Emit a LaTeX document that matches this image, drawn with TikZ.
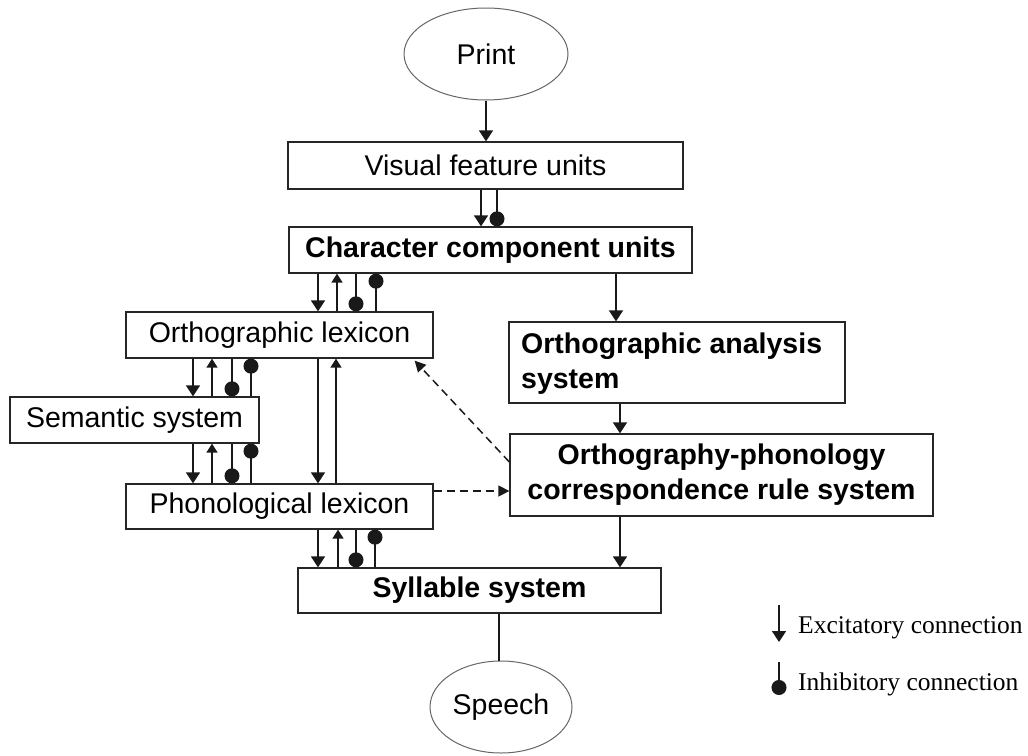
\documentclass[tikz,border=0pt]{standalone}
\usepackage{fontspec}
\setmainfont{Liberation Sans}
\newfontfamily\legfont{Liberation Serif}
\usetikzlibrary{arrows.meta,calc,shapes.geometric}

\tikzset{
  boxtext/.style={font=\fontsize{28.5}{35}\selectfont},
  unit/.style={draw=black!85, line width=1.3pt, inner sep=0pt, boxtext, align=center},
  oval/.style={ellipse, draw=black!60, line width=1pt, inner sep=0pt, boxtext},
  wire/.style={line width=1.6pt, black!90},
  exc/.style={wire, -{Triangle[length=11pt,width=14pt]}},
  excup/.style={wire, -{Triangle[length=9pt,width=11pt]}},
  inh/.style={wire, -{Circle[length=15pt]}},
  dashlink/.style={line width=1.5pt, black!90, dash pattern=on 8pt off 5pt,
    -{Triangle[length=11pt,width=11pt]}},
}

\begin{document}
\begin{tikzpicture}[x=1pt, y=-1pt]
\useasboundingbox (0,0) rectangle (1028,755);

% ellipses for input and output
\node[oval, minimum width=164pt, minimum height=92pt] (print) at (486,54) {Print};
\node[oval, minimum width=142pt, minimum height=92pt] (speech) at (501,707) {Speech};

% processing units
\node[unit, minimum width=395pt, minimum height=47pt] (vis) at (485.5,165.5) {Visual feature units};
\node[unit, minimum width=403pt, minimum height=46pt] (char) at (490.5,250) {\bfseries Character component units};
\node[unit, minimum width=307pt, minimum height=46pt] (ortho) at (279.5,335) {Orthographic lexicon};
\node[unit, minimum width=249pt, minimum height=46pt] (sem) at (134.5,420) {Semantic system};
\node[unit, minimum width=307pt, minimum height=45pt] (phon) at (279.5,506.5) {Phonological lexicon};
\node[unit, minimum width=363pt, minimum height=45pt] (syl) at (479.5,590.5) {\bfseries Syllable system};
\node[unit, minimum width=336pt, minimum height=81pt] (oas) at (677,362.5) {};
\node[boxtext, anchor=west, align=left, inner sep=0pt] (oastext) at (521,364)
  {\bfseries Orthographic analysis\\\bfseries system};
\node[unit, minimum width=423pt, minimum height=82pt] (opc) at (721.5,475)
  {\bfseries Orthography-phonology\\\bfseries correspondence rule system};

% print to visual features
\draw[exc] (print.south) -- (print.south |- vis.north);

% visual features to character components
\draw[exc] (481,0 |- vis.south) -- (481,0 |- char.north);
\draw[inh] (497,0 |- vis.south) -- (497,0 |- char.north);

% character components <-> orthographic lexicon
\draw[exc]   (318,0 |- char.south) -- (318,0 |- ortho.north);
\draw[excup] (337,0 |- ortho.north) -- (337,0 |- char.south);
\draw[inh]   (356,0 |- char.south) -- (356,0 |- ortho.north);
\draw[inh]   (376,0 |- ortho.north) -- (376,0 |- char.south);

% orthographic lexicon <-> semantic system
\draw[exc]   (193,0 |- ortho.south) -- (193,0 |- sem.north);
\draw[excup] (212,0 |- sem.north) -- (212,0 |- ortho.south);
\draw[inh]   (232,0 |- ortho.south) -- (232,0 |- sem.north);
\draw[inh]   (251,0 |- sem.north) -- (251,0 |- ortho.south);

% semantic system <-> phonological lexicon
\draw[exc]   (193,0 |- sem.south) -- (193,0 |- phon.north);
\draw[excup] (212,0 |- phon.north) -- (212,0 |- sem.south);
\draw[inh]   (232,0 |- sem.south) -- (232,0 |- phon.north);
\draw[inh]   (251,0 |- phon.north) -- (251,0 |- sem.south);

% orthographic lexicon <-> phonological lexicon
\draw[exc]   (318,0 |- ortho.south) -- (318,0 |- phon.north);
\draw[excup] (336,0 |- phon.north) -- (336,0 |- ortho.south);

% phonological lexicon <-> syllable system
\draw[exc]   (318,0 |- phon.south) -- (318,0 |- syl.north);
\draw[excup] (338,0 |- syl.north) -- (338,0 |- phon.south);
\draw[inh]   (356,0 |- phon.south) -- (356,0 |- syl.north);
\draw[inh]   (375,0 |- syl.north) -- (375,0 |- phon.south);

% sublexical route
\draw[exc] (616,0 |- char.south) -- (616,0 |- oas.north);
\draw[exc] (620,0 |- oas.south) -- (620,0 |- opc.north);
\draw[exc] (620,0 |- opc.south) -- (620,0 |- syl.north);

% dashed links
\draw[dashlink] (phon.east |- 0,491) -- (opc.west |- 0,491);
\draw[dashlink] (opc.west |- 0,462) -- ($(ortho.south east)+(-19,2)$);

% output
\draw[wire] (499,0 |- syl.south) -- (499,0 |- speech.north);

% legend
\coordinate (exA) at (779,605);
\coordinate (exB) at (779,642);
\coordinate (inA) at (779,662);
\coordinate (inB) at (779,695);
\draw[exc] (exA) -- (exB);
\draw[inh] (inA) -- (inB);
\node[anchor=base west, inner sep=0pt, font=\legfont\fontsize{25.5}{30}\selectfont] (exlabel) at (798,633) {Excitatory connection};
\node[anchor=base west, inner sep=0pt, font=\legfont\fontsize{25.5}{30}\selectfont] (inlabel) at (798,690) {Inhibitory connection};
\end{tikzpicture}
\end{document}
